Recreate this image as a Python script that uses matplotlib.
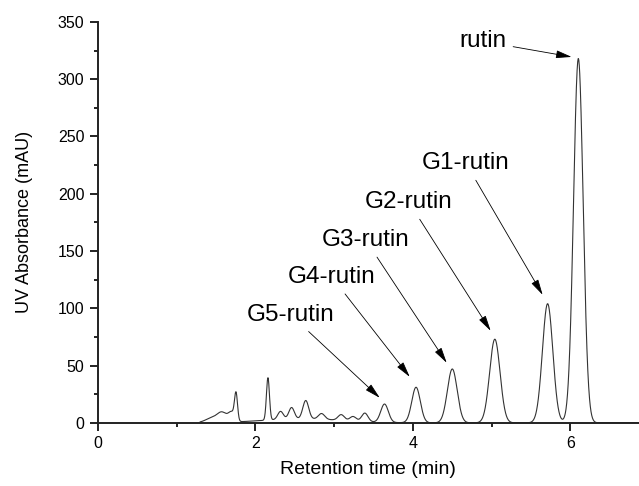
import numpy as np
import matplotlib.pyplot as plt
from matplotlib.ticker import MultipleLocator

plt.rcParams['font.family'] = ['Liberation Sans', 'DejaVu Sans']

# peak table: retention time (min), height (mAU), width (min)
peak_time = [1.45, 1.58, 1.70, 1.755, 2.16, 2.32, 2.46, 2.64, 2.84, 3.09, 3.24, 3.39,
             3.64, 4.04, 4.50, 5.04, 5.71, 6.10, 2.60]
peak_height = [4.0, 8.0, 8.0, 23.0, 37.0, 7.0, 10.0, 16.0, 5.0, 5.0, 4.0, 7.5,
               16.0, 31.0, 47.0, 73.0, 104.0, 318.0, 3.5]
peak_width = [0.08, 0.06, 0.04, 0.019, 0.019, 0.035, 0.035, 0.037, 0.04, 0.04, 0.04, 0.04,
              0.048, 0.054, 0.062, 0.066, 0.066, 0.061, 0.50]

# annotations: label, text position, arrow tip
labels = ['rutin', 'G1-rutin', 'G2-rutin', 'G3-rutin', 'G4-rutin', 'G5-rutin']
text_x = [4.886, 4.67, 3.947, 3.40, 2.97, 2.45]
text_y = [333.0, 226.9, 192.8, 159.7, 127.4, 94.2]
tip_x = [6.015, 5.647, 4.987, 4.429, 3.96, 3.58]
tip_y = [319.4, 111.7, 80.3, 52.4, 40.1, 21.8]

t = np.linspace(1.3, 6.87, 3000)
signal = np.zeros_like(t)
for c, h, w in zip(peak_time, peak_height, peak_width):
    signal += h * np.exp(-0.5 * ((t - c) / w) ** 2)

fig = plt.figure(figsize=(6.39, 4.86), dpi=100)
ax = fig.add_axes([0.153, 0.130, 0.847, 0.825])
ax.plot(t, signal, color='#333333', lw=0.8)

for lab, tx, ty, px, py in zip(labels, text_x, text_y, tip_x, tip_y):
    ax.annotate(lab, xy=(px, py), xytext=(tx, ty), fontsize=17.5,
                ha='center', va='center',
                arrowprops=dict(arrowstyle='-|>,head_length=0.6,head_width=0.15',
                                mutation_scale=16, lw=0.6, color='black',
                                shrinkA=3, shrinkB=0))

ax.set_xlim(0, 6.87)
ax.set_ylim(0, 350)
ax.xaxis.set_major_locator(MultipleLocator(2))
ax.xaxis.set_minor_locator(MultipleLocator(1))
ax.yaxis.set_major_locator(MultipleLocator(50))
ax.yaxis.set_minor_locator(MultipleLocator(25))
ax.spines['top'].set_visible(False)
ax.spines['right'].set_visible(False)
for s in ['left', 'bottom']:
    ax.spines[s].set_linewidth(1.4)
    ax.spines[s].set_color('#222222')
ax.tick_params(which='major', direction='out', length=6, width=1.4, color='#222222',
               labelsize=11.5)
ax.tick_params(which='minor', direction='out', length=3, width=1.4, color='#222222')
ax.set_xlabel('Retention time (min)', fontsize=14, labelpad=7)
ax.set_ylabel('UV Absorbance (mAU)', fontsize=13, labelpad=18)

fig.savefig('out.png', dpi=100)
